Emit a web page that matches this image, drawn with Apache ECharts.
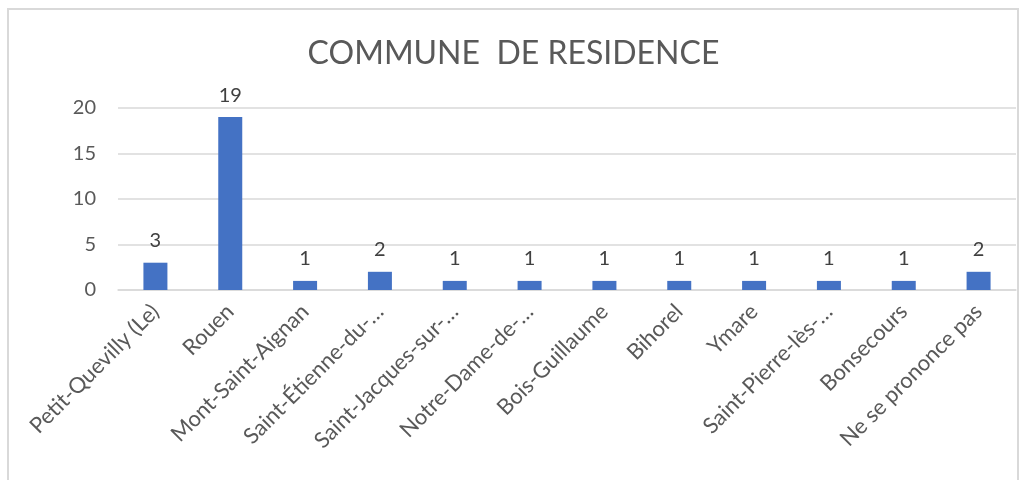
<!DOCTYPE html>
<html>
<head>
<meta charset="utf-8">
<script src="https://cdn.jsdelivr.net/npm/echarts@6/dist/echarts.min.js"></script>
<style>
  html, body { margin: 0; padding: 0; background: #fff; }
  #chart { width: 1027px; height: 480px; }
</style>
</head>
<body>
<div id="chart"></div>
<script>
// categories (as displayed, truncated like the original)
const communes = [
  'Petit-Quevilly (Le)', 'Rouen', 'Mont-Saint-Aignan', 'Saint-Étienne-du-…',
  'Saint-Jacques-sur-…', 'Notre-Dame-de-…', 'Bois-Guillaume', 'Bihorel',
  'Ymare', 'Saint-Pierre-lès-…', 'Bonsecours', 'Ne se prononce pas'
]
const effectifs = [3, 19, 1, 2, 1, 1, 1, 1, 1, 1, 1, 2]

const font = 'Lato, "Open Sans", sans-serif'
const myChart = echarts.init(document.getElementById('chart'))

myChart.setOption({
  animation: false,
  title: {
    text: 'COMMUNE  DE RESIDENCE',
    left: 'center',
    top: 33,
    textStyle: { fontFamily: font, fontSize: 32, fontWeight: 'normal', color: '#595959' }
  },
  graphic: [{
    type: 'rect',
    shape: { x: 8, y: 9, width: 1010, height: 480 },
    style: { fill: 'none', stroke: '#d9d9d9', lineWidth: 2 },
    silent: true
  }],
  grid: { left: 118, right: 11, top: 108, bottom: 190 },
  xAxis: {
    type: 'category',
    data: communes,
    axisLine: { lineStyle: { color: '#d9d9d9', width: 1.5 } },
    axisTick: { show: false },
    axisLabel: {
      interval: 0,
      rotate: 45,
      margin: 18,
      fontFamily: font,
      fontSize: 22,
      color: '#595959'
    }
  },
  yAxis: {
    type: 'value',
    min: 0,
    max: 20,
    interval: 5,
    axisLine: { show: false },
    axisTick: { show: false },
    splitLine: { lineStyle: { color: '#d9d9d9', width: 1.5 } },
    axisLabel: { margin: 22, fontFamily: font, fontSize: 20, color: '#595959' }
  },
  series: [{
    name: 'Effectif',
    type: 'bar',
    data: effectifs,
    barWidth: 24,
    itemStyle: { color: '#4472c4' },
    label: {
      show: true,
      position: 'top',
      distance: 12,
      fontFamily: font,
      fontSize: 20,
      color: '#404040'
    }
  }]
})
</script>
</body>
</html>
